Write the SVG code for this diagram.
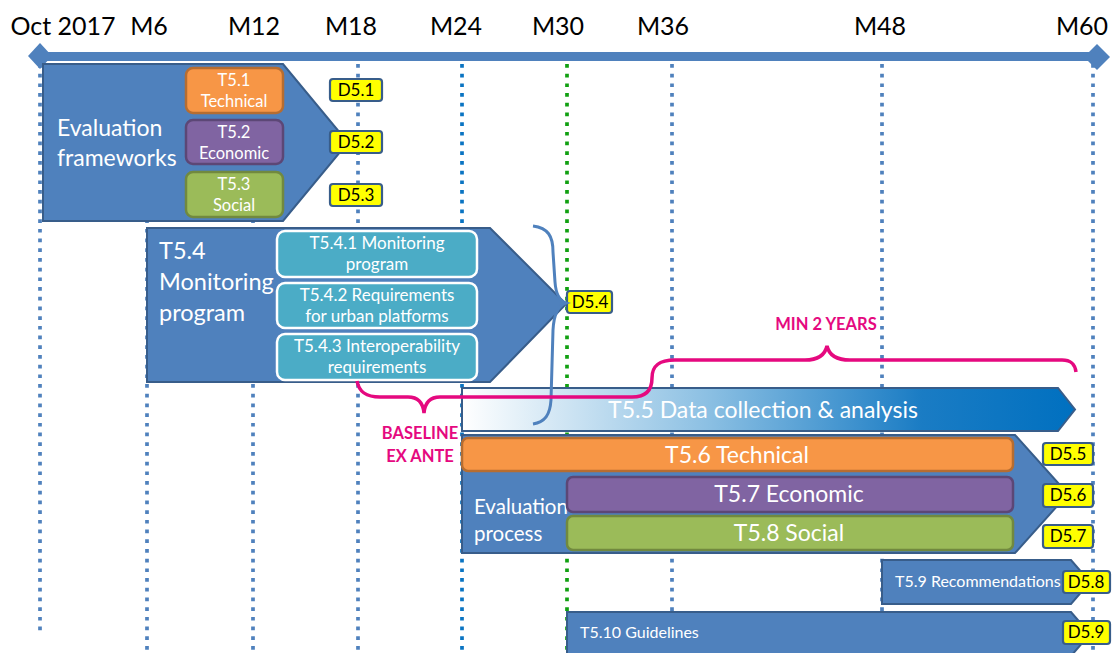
<svg xmlns="http://www.w3.org/2000/svg" width="1116" height="653" viewBox="0 0 1116 653">
<defs>
<linearGradient id="g55" x1="462" y1="0" x2="1075" y2="0" gradientUnits="userSpaceOnUse">
<stop offset="0" stop-color="#FFFFFF"/>
<stop offset="0.4" stop-color="#8CC0E3"/>
<stop offset="0.75" stop-color="#1A7CC4"/>
<stop offset="1" stop-color="#0070C0"/>
</linearGradient>
</defs>
<style>
text{font-family:Lato,"Liberation Sans",sans-serif}
.ax{font-size:25px;fill:#000;text-anchor:middle}
.dot{fill:none;stroke:#4F81BD;stroke-width:3.7;stroke-dasharray:3.7 6}
.big{fill:#4F81BD;stroke:#385D8A;stroke-width:2}
.w{fill:#fff}
.c{text-anchor:middle}
.or{fill:#F79646;stroke:#B66D31;stroke-width:2.5}
.pu{fill:#8064A2;stroke:#5C4776;stroke-width:2.5}
.gr{fill:#9BBB59;stroke:#71893F;stroke-width:2.5}
.tq{fill:#4BACC6;stroke:#fff;stroke-width:2.5}
.d{fill:#FFFF00;stroke:#385D8A;stroke-width:2.2}
.dt{font-size:17px;fill:#000;text-anchor:middle}
.pk{fill:none;stroke:#E5097F;stroke-width:3.5}
.pkt{fill:#E5097F;font-weight:bold;font-size:16.5px;text-anchor:middle}
.s{font-size:16.5px}
.m{font-size:17px}
.l{font-size:23px}
</style>
<rect width="1116" height="653" fill="#fff"/>

<g id="timeline">
<line class="dot" x1="40" y1="64" x2="40" y2="634"/>
<line class="dot" x1="147" y1="64" x2="147" y2="653"/>
<line class="dot" x1="253" y1="64" x2="253" y2="653"/>
<line class="dot" x1="358" y1="64" x2="358" y2="653"/>
<line class="dot" x1="462" y1="64" x2="462" y2="653" style="stroke:#0A74C2"/>
<line class="dot" x1="567" y1="64" x2="567" y2="653" style="stroke:#11A011"/>
<line class="dot" x1="672" y1="64" x2="672" y2="653"/>
<line class="dot" x1="882" y1="64" x2="882" y2="653"/>
<line class="dot" x1="1093" y1="64" x2="1093" y2="653"/>
<rect x="40" y="52" width="1058" height="9" fill="#4F81BD"/>
<path d="M40,43 L52,56 L40,69 L28,56 Z" fill="#4F81BD"/>
<path d="M1097,44 L1110,57 L1097,70 L1084,57 Z" fill="#4F81BD"/>
<text class="ax" x="63" y="35">Oct 2017</text>
<text class="ax" x="149" y="35">M6</text>
<text class="ax" x="254" y="35">M12</text>
<text class="ax" x="351" y="35">M18</text>
<text class="ax" x="456" y="35">M24</text>
<text class="ax" x="558" y="35">M30</text>
<text class="ax" x="663" y="35">M36</text>
<text class="ax" x="880" y="35">M48</text>
<text class="ax" x="1082" y="35">M60</text>
</g>

<g id="eval-frameworks">
<path class="big" d="M43,64 H283 L348,142.5 L283,221 H43 Z"/>
<text class="w l" x="57" y="136">Evaluation</text>
<text class="w l" x="57" y="166">frameworks</text>
</g>
<g id="t51">
<rect class="or" x="186" y="68" width="97" height="45" rx="7"/>
<text class="w c s" x="234" y="86">T5.1</text>
<text class="w c s" x="234" y="107">Technical</text>
</g>
<g id="t52">
<rect class="pu" x="186" y="120" width="97" height="44" rx="7"/>
<text class="w c s" x="234" y="138">T5.2</text>
<text class="w c s" x="234" y="159">Economic</text>
</g>
<g id="t53">
<rect class="gr" x="186" y="172" width="97" height="45" rx="7"/>
<text class="w c s" x="234" y="190">T5.3</text>
<text class="w c s" x="234" y="211">Social</text>
</g>
<g id="d51"><rect class="d" x="330" y="79" width="52" height="22" rx="3"/><text class="dt" x="356" y="96">D5.1</text></g>
<g id="d52"><rect class="d" x="330" y="131" width="52" height="22" rx="3"/><text class="dt" x="356" y="148">D5.2</text></g>
<g id="d53"><rect class="d" x="330" y="184" width="52" height="22" rx="3"/><text class="dt" x="356" y="201">D5.3</text></g>

<g id="t54">
<path class="big" d="M147,228 H490 L566,304 L490,382 H147 Z"/>
<text class="w" x="159" y="259" font-size="23.5">T5.4</text>
<text class="w" x="159" y="290" font-size="23.5">Monitoring</text>
<text class="w" x="159" y="321" font-size="23.5">program</text>
</g>
<g id="t541">
<rect class="tq" x="277" y="231" width="200" height="46" rx="8"/>
<text class="w c m" x="377" y="249">T5.4.1 Monitoring</text>
<text class="w c m" x="377" y="270">program</text>
</g>
<g id="t542">
<rect class="tq" x="277" y="283" width="200" height="45" rx="8"/>
<text class="w c m" x="377" y="301">T5.4.2 Requirements</text>
<text class="w c m" x="377" y="322">for urban platforms</text>
</g>
<g id="t543">
<rect class="tq" x="277" y="334" width="200" height="46" rx="8"/>
<text class="w c m" x="377" y="352">T5.4.3 Interoperability</text>
<text class="w c m" x="377" y="373">requirements</text>
</g>
<g id="d54"><rect class="d" x="567" y="291" width="45" height="22" rx="3"/><text class="dt" x="590" y="308">D5.4</text></g>

<g id="t55">
<path d="M462,388 H1058 L1075,409.5 L1058,431 H462 Z" fill="url(#g55)" stroke="#385D8A" stroke-width="2"/>
<text class="w c l" x="763" y="418">T5.5 Data collection &amp; analysis</text>
</g>

<g id="eval-process">
<path class="big" d="M462,435 H1015 L1068,494 L1015,553 H462 Z"/>
<text class="w" x="474" y="514" font-size="20.5">Evaluation</text>
<text class="w" x="474" y="541" font-size="20.5">process</text>
</g>
<g id="t56"><rect class="or" x="462" y="438" width="551" height="33" rx="6"/><text class="w c l" x="737" y="463">T5.6 Technical</text></g>
<g id="t57"><rect class="pu" x="567" y="477" width="446" height="35" rx="6"/><text class="w c l" x="789" y="502">T5.7 Economic</text></g>
<g id="t58"><rect class="gr" x="567" y="516" width="446" height="34" rx="6"/><text class="w c l" x="789" y="541">T5.8 Social</text></g>
<g id="d55"><rect class="d" x="1043" y="443" width="50" height="22" rx="3"/><text class="dt" x="1068" y="460">D5.5</text></g>
<g id="d56"><rect class="d" x="1043" y="484" width="50" height="23" rx="3"/><text class="dt" x="1068" y="501">D5.6</text></g>
<g id="d57"><rect class="d" x="1043" y="525" width="50" height="23" rx="3"/><text class="dt" x="1068" y="542">D5.7</text></g>

<g id="t59">
<path class="big" d="M882,560 H1071 L1090,582 L1071,604 H882 Z"/>
<text class="w" x="895" y="587" font-size="16">T5.9 Recommendations</text>
</g>
<g id="d58"><rect class="d" x="1063" y="571" width="47" height="22" rx="3"/><text class="dt" x="1086" y="588">D5.8</text></g>
<g id="t510">
<path class="big" d="M567,612 H1071 L1090,634 L1071,656 H567 Z"/>
<text class="w" x="580" y="638" font-size="16">T5.10 Guidelines</text>
</g>
<g id="d59"><rect class="d" x="1063" y="621" width="47" height="23" rx="3"/><text class="dt" x="1086" y="638">D5.9</text></g>

<g id="connectors">
<path d="M533,226 C548,228 553,236 553,252 L555,282 C556,296 560,301 566,303 C559,305 554,312 553,330 L551,400 C550,415 545,422 533,424" fill="none" stroke="#4F81BD" stroke-width="3"/>
<path class="pk" d="M357,381 C359,392 366,397 380,397 L408,397 C418,397 423,402 424,413 C425,402 430,397 440,397 L632,397 C646,397 652,390 652,378"/>
<path class="pk" d="M652,378 C652,365 660,360 675,360 L805,360 C818,360 825,355 827,346 C829,355 836,360 850,360 L1062,360 C1072,360 1075,365 1076,372"/>
</g>
<g id="labels">
<text class="pkt" x="826" y="330">MIN 2 YEARS</text>
<text class="pkt" x="420" y="439">BASELINE</text>
<text class="pkt" x="420" y="462">EX ANTE</text>
</g>
</svg>
